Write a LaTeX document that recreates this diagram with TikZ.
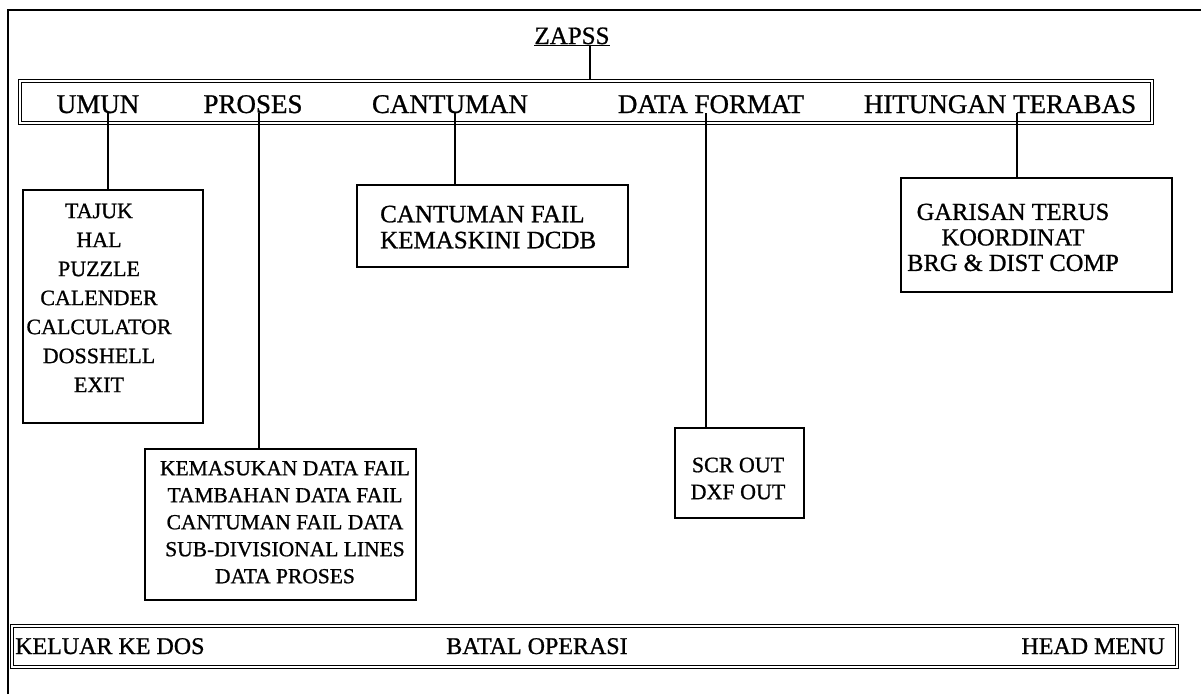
\documentclass[tikz,border=0pt]{standalone}
\usepackage{fontspec}
\setmainfont{Liberation Serif}[FakeBold=0.9]

\begin{document}
\begin{tikzpicture}[x=1pt,y=-1pt]%
  \tikzstyle{boxn}=[rectangle,draw,line width=2.4pt,inner sep=0]
  \tikzstyle{barn}=[rectangle,draw,double,line width=1.2pt,double distance=2.2pt,inner sep=0]
  \tikzstyle{bart}=[inner sep=0,anchor=base,font=\fontsize{27}{30}\selectfont]
  \tikzstyle{endt}=[inner sep=0,anchor=base,font=\fontsize{24}{28}\selectfont]
  \tikzstyle{txtn}=[inner sep=0,anchor=north,align=center]
  \tikzstyle{link}=[line width=2.6pt]
  \useasboundingbox (0,0) rectangle (1201,694);
  \draw[line width=2.4pt] (8,694) -- (8,10) -- (1201,10);
  % title and menu bar
  \node(zapss)[inner sep=0,anchor=base,font=\fontsize{25}{28}\selectfont] at (572,44) {\underline{ZAPSS}};
  \node(topbar)[barn,minimum width=1132,minimum height=42] at (586,102) {};
  \node(umun)[bart] at (98,113) {UMUN};
  \node(proses)[bart] at (253,113) {PROSES};
  \node(cantum)[bart] at (450,113) {CANTUMAN};
  \node(dataf)[bart] at (711,113) {DATA FORMAT};
  \node(hitung)[bart] at (1000,113) {HITUNGAN TERABAS};
  % sub menus
  \node(umunbox)[boxn,minimum width=180,minimum height=233] at (113,306.5) {};
  \node(umuntxt)[txtn,font=\fontsize{22}{29}\selectfont] at (99,203.4)
    {TAJUK\\HAL\\PUZZLE\\CALENDER\\CALCULATOR\\DOSSHELL\\EXIT};
  \node(cantbox)[boxn,minimum width=271,minimum height=82] at (492.5,226) {};
  \node(canttxt)[txtn,anchor=north west,align=left,font=\fontsize{25}{26}\selectfont] at (380,205.5)
    {CANTUMAN FAIL\\KEMASKINI DCDB};
  \node(hitbox)[boxn,minimum width=271,minimum height=114] at (1036.5,235) {};
  \node(hittxt)[txtn,font=\fontsize{24.5}{25.5}\selectfont] at (1013,203.5)
    {GARISAN TERUS\\KOORDINAT\\BRG \& DIST COMP};
  \node(prosbox)[boxn,minimum width=271,minimum height=151] at (280.5,524.5) {};
  \node(prostxt)[txtn,font=\fontsize{21.5}{27}\selectfont] at (285,460.8)
    {KEMASUKAN DATA FAIL\\TAMBAHAN DATA FAIL\\CANTUMAN FAIL DATA\\SUB-DIVISIONAL LINES\\DATA PROSES};
  \node(databox)[boxn,minimum width=129,minimum height=90] at (739.5,473) {};
  \node(datatxt)[txtn,font=\fontsize{22}{27}\selectfont] at (738,457.4)
    {SCR OUT\\DXF OUT};
  % bottom bar
  \node(endbar)[barn,minimum width=1165,minimum height=41] at (594.5,646.5) {};
  \node(keluar)[endt,anchor=base west] at (15,654) {KELUAR KE DOS};
  \node(batal)[endt] at (537,654) {BATAL OPERASI};
  \node(head)[endt,anchor=base east] at (1165,654) {HEAD MENU};
  % links
  \coordinate(cz) at (590,0);
  \coordinate(cu) at (108,0);
  \coordinate(cp) at (259,0);
  \coordinate(cc) at (455,0);
  \coordinate(cd) at (706,0);
  \coordinate(ch) at (1017,0);
  \draw[link] (zapss.south -| cz) -- (topbar.north -| cz);
  \draw[link] (umun.base -| cu) -- (umunbox.north -| cu);
  \draw[link] (proses.base -| cp) -- (prosbox.north -| cp);
  \draw[link] (cantum.base -| cc) -- (cantbox.north -| cc);
  \draw[link] (dataf.base -| cd) -- (databox.north -| cd);
  \draw[link] (hitung.base -| ch) -- (hitbox.north -| ch);
\end{tikzpicture}
\end{document}
